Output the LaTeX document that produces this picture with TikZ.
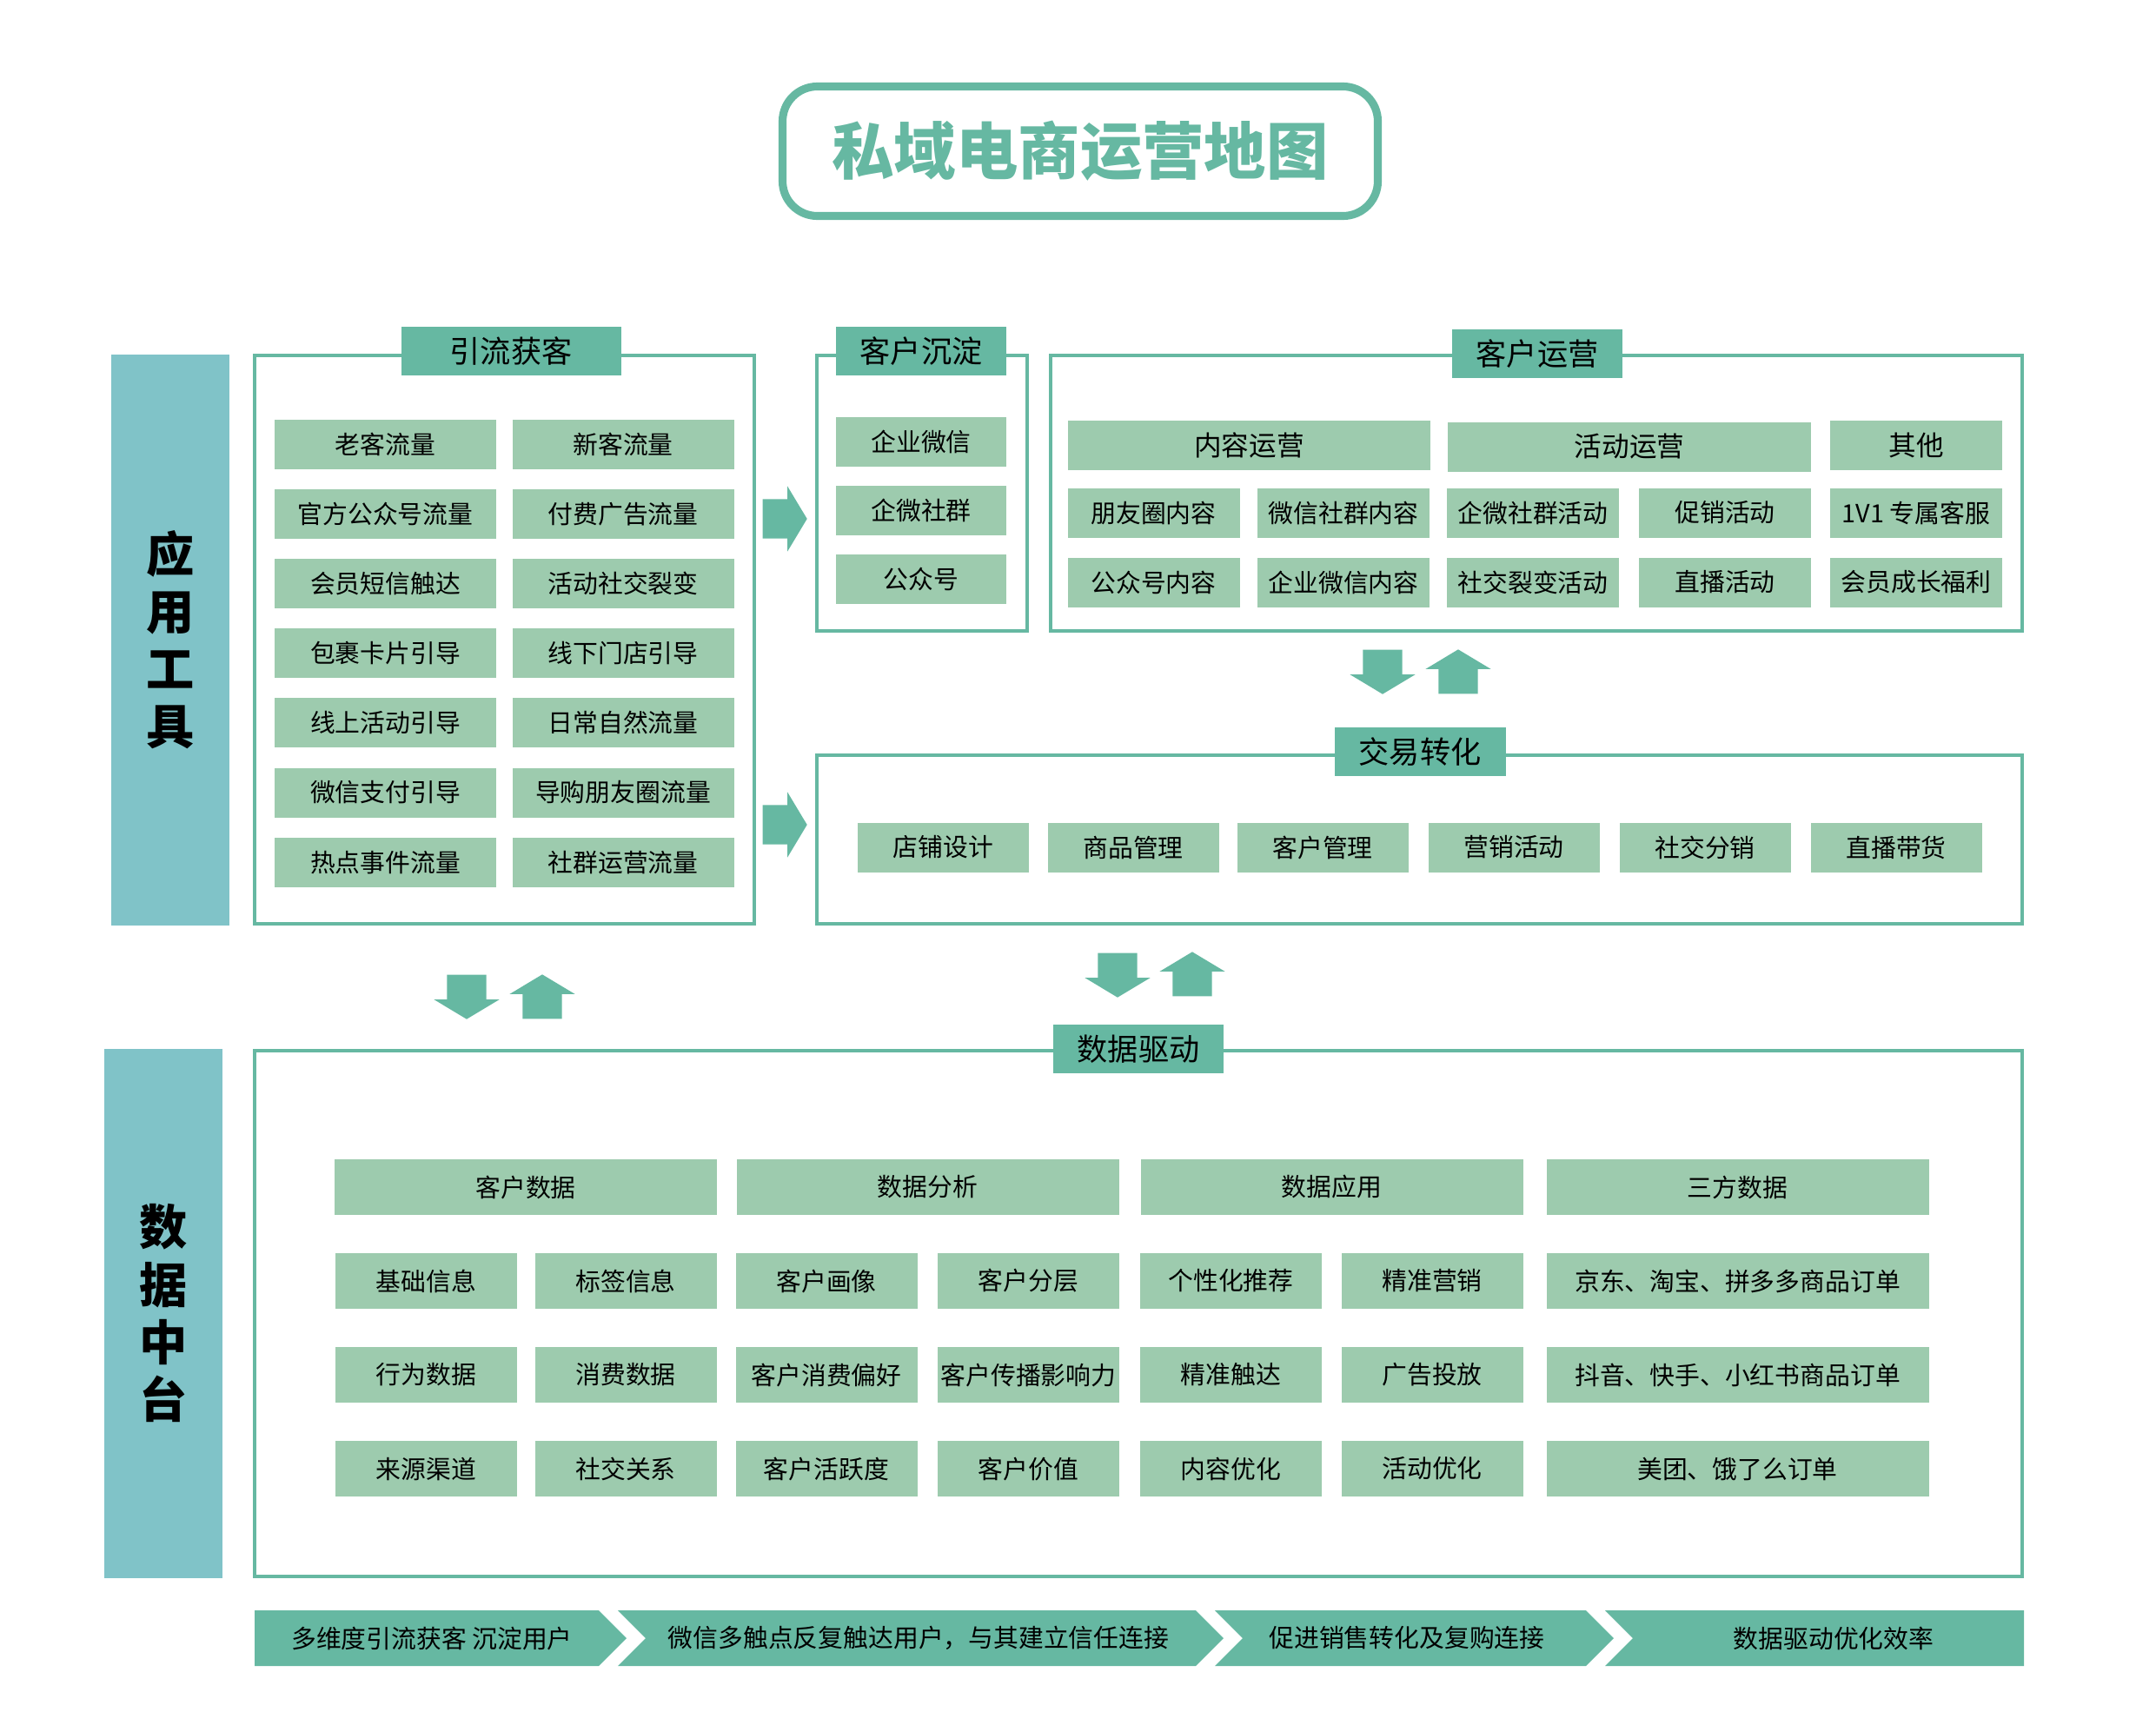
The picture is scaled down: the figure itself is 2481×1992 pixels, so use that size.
\documentclass[tikz,border=0pt]{standalone}
\usepackage{fontspec}
\setmainfont{Noto Sans CJK SC}
\usepackage{xcolor}
\usepackage{tikz}
\usetikzlibrary{shapes.arrows,positioning}
\definecolor{teal0}{HTML}{66B8A2}
\definecolor{leaf}{HTML}{9DCBAE}
\definecolor{side}{HTML}{80C3C8}
\tikzset{
  ttl/.style  = {draw=teal0, line width=2.6pt, rounded corners=4mm, text=teal0,
                 minimum width=68.5mm, minimum height=14.9mm,
                 font=\fontsize{20.3}{24}\selectfont\bfseries},
  frm/.style  = {draw=teal0, line width=1.3pt, rectangle, inner sep=0pt},
  hdr/.style  = {fill=teal0, rectangle, inner sep=0pt, minimum height=5.6mm,
                 font=\fontsize{10}{12}\selectfont},
  itm/.style  = {fill=leaf, rectangle, inner sep=0pt, minimum height=5.7mm,
                 font=\fontsize{8.2}{10}\selectfont},
  sub/.style  = {itm, minimum height=6.4mm},
  big/.style  = {itm, font=\fontsize{9}{11}\selectfont},
  bar/.style  = {fill=side, inner sep=0pt, minimum width=13.6mm, align=center,
                 font=\fontsize{15.7}{18.8}\selectfont\bfseries},
  fat/.style  = {single arrow, fill=teal0, inner xsep=0pt, inner ysep=2.2mm,
                 minimum height=5.1mm, single arrow head extend=1.5mm,
                 single arrow head indent=0pt, single arrow tip angle=118,
                 anchor=tail},
  lbl/.style  = {font=\fontsize{8.2}{10}\selectfont, inner sep=0pt}
}

\begin{document}
\begin{tikzpicture}[x=0.1mm, y=-0.1mm]
\useasboundingbox (0,0) rectangle (2481,1992);

% --- title ---
\node[ttl] (title) at (1243,174) {私域电商运营地图};

% --- side bars ---
\node[bar, minimum height=65.7mm] (tools) at (196,736) {应\\用\\工\\具};
\node[bar, minimum height=60.9mm] (mid) at (188,1511) {数\\据\\中\\台};

% --- frames ---
\node[frm, minimum width=57.5mm, minimum height=65.4mm] (fAcq) at (580.5,736) {};
\node[frm, minimum width=24.2mm, minimum height=31.7mm] (fKeep) at (1061,567.5) {};
\node[frm, minimum width=111.8mm, minimum height=31.7mm] (fOps) at (1768,567.5) {};
\node[frm, minimum width=138.7mm, minimum height=19.4mm] (fDeal) at (1633.5,966) {};
\node[frm, minimum width=203.4mm, minimum height=60.5mm] (fData) at (1310,1511.5) {};

% --- headers ---
\node[hdr, minimum width=25.3mm] (hAcq) at (588,404) {引流获客};
\node[hdr, minimum width=19.6mm] (hKeep) at (1060,404) {客户沉淀};
\node[hdr, minimum width=19.6mm] (hOps) at (1769,407) {客户运营};
\node[hdr, minimum width=19.7mm] (hDeal) at (1634,865) {交易转化};
\node[hdr, minimum width=19.6mm] (hData) at (1310,1207) {数据驱动};

% --- 引流获客 ---
\foreach \r/\a/\b in {0/老客流量/新客流量, 1/官方公众号流量/付费广告流量,
    2/会员短信触达/活动社交裂变, 3/包裹卡片引导/线下门店引导,
    4/线上活动引导/日常自然流量, 5/微信支付引导/导购朋友圈流量,
    6/热点事件流量/社群运营流量} {
  \node[itm, minimum width=25.5mm] (acqL\r) at (443.5,511+80.2*\r) {\a};
  \node[itm, minimum width=25.5mm] (acqR\r) at (717,511+80.2*\r) {\b};
}

% --- 客户沉淀 ---
\foreach \r/\t in {0/企业微信, 1/企微社群, 2/公众号}
  \node[itm, minimum width=19.6mm] (keep\r) at (1060,508+79*\r) {\t};

% --- 客户运营 ---
\node[big, minimum width=41.7mm] (opsA) at (1437.5,512) {内容运营};
\node[big, minimum width=41.8mm] (opsB) at (1875,514) {活动运营};
\node[big, minimum width=19.8mm] (opsC) at (2205,512) {其他};
\foreach \c/\x/\a/\b in {0/1327.5/朋友圈内容/公众号内容, 1/1546/微信社群内容/企业微信内容,
    2/1764/企微社群活动/社交裂变活动, 3/1985/促销活动/直播活动,
    4/2205/1V1 专属客服/会员成长福利} {
  \node[itm, minimum width=19.8mm] (opsU\c) at (\x,590) {\a};
  \node[itm, minimum width=19.8mm] (opsD\c) at (\x,670) {\b};
}

% --- 交易转化 ---
\foreach \i/\x/\t in {0/1085.5/店铺设计, 1/1304/商品管理, 2/1522/客户管理,
    3/1742/营销活动, 4/1962/社交分销, 5/2182/直播带货}
  \node[itm, minimum width=19.7mm] (deal\i) at (\x,975) {\t};

% --- 数据驱动 ---
\foreach \i/\x/\t in {0/605/客户数据, 1/1067.5/数据分析, 2/1532.5/数据应用, 3/1999.5/三方数据}
  \node[sub, minimum width=44mm] (grp\i) at (\x,1366) {\t};
\foreach \i/\x/\a/\b/\c in {0/490.5/基础信息/行为数据/来源渠道,
    1/720/标签信息/消费数据/社交关系, 2/951/客户画像/客户消费偏好/客户活跃度,
    3/1183.5/客户分层/客户传播影响力/客户价值, 4/1416.5/个性化推荐/精准触达/内容优化,
    5/1648/精准营销/广告投放/活动优化} {
  \node[sub, minimum width=20.9mm] (dat\i a) at (\x,1474) {\a};
  \node[sub, minimum width=20.9mm] (dat\i b) at (\x,1582) {\b};
  \node[sub, minimum width=20.9mm] (dat\i c) at (\x,1690) {\c};
}
\foreach \r/\y/\t in {0/1474/京东、淘宝、拼多多商品订单, 1/1582/抖音、快手、小红书商品订单,
    2/1690/美团、饿了么订单}
  \node[sub, minimum width=44mm] (shop\r) at (1999.5,\y) {\t};

% --- block arrows (placed by their tails) ---
\node[fat] (toKeep) at (877,597) {};
\node[fat] (toDeal) at (877,949) {};
\node[fat, rotate=-90] (dn1) at (537,1121) {};
\node[fat, rotate=90]  (up1) at (624,1173) {};
\node[fat, rotate=-90] (dn2) at (1286,1096) {};
\node[fat, rotate=90]  (up2) at (1372,1147) {};
\node[fat, rotate=-90] (dn3) at (1591,747) {};
\node[fat, rotate=90]  (up3) at (1678,799) {};

% --- bottom stages ---
\fill[teal0] (293,1853) -- (689,1853) -- (721,1885) -- (689,1917) -- (293,1917) -- cycle;
\fill[teal0] (711,1853) -- (1376,1853) -- (1408,1885) -- (1376,1917) -- (711,1917) -- (743,1885) -- cycle;
\fill[teal0] (1398,1853) -- (1825,1853) -- (1857,1885) -- (1825,1917) -- (1398,1917) -- (1430,1885) -- cycle;
\fill[teal0] (1847,1853) -- (2329,1853) -- (2329,1917) -- (1847,1917) -- (1879,1885) -- cycle;
\node[lbl] (st1) at (497,1885) {多维度引流获客 沉淀用户};
\node[lbl] (st2) at (1057,1885) {微信多触点反复触达用户，与其建立信任连接};
\node[lbl] (st3) at (1619,1885) {促进销售转化及复购连接};
\node[lbl] (st4) at (2110,1885) {数据驱动优化效率};

\end{tikzpicture}
\end{document}
